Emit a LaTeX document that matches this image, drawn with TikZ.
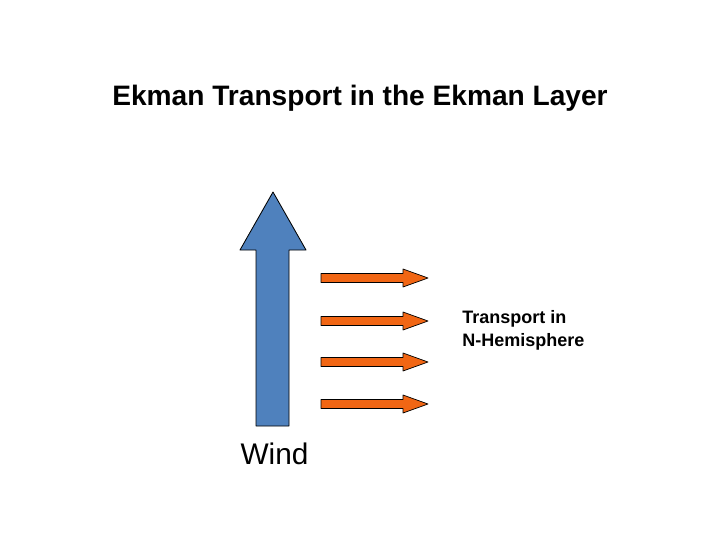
\documentclass[tikz,border=0pt]{standalone}
\usepackage{fontspec}
\setmainfont{Liberation Sans}
\usepackage{tikz}
\definecolor{wwttbb}{rgb}{0.31,0.506,0.741}
\definecolor{ffttqq}{rgb}{0.945,0.4,0.08}
\tikzset{every node/.style={inner sep=0pt}}

\begin{document}
\begin{tikzpicture}[line cap=round,line join=round,x=0.025cm,y=-0.025cm]
            \useasboundingbox[fill=white] (0,0) rectangle (720,540);
            \node (title) [font=\fontsize{20}{24}\selectfont\bfseries] at (360,98) {Ekman Transport in the Ekman Layer};
            % wind arrow
            \draw [line width=0.6pt,fill=wwttbb] (256,426) -- (256,250) -- (240,250) -- (273,192) -- (306,250) -- (289,250) -- (289,426) -- cycle;
            % transport arrows
            \foreach \y in {278,321,362,404}
            {
            \draw [line width=0.5pt,fill=ffttqq] (321,\y-4.5) -- (403,\y-4.5) -- (403,\y-9) -- (428,\y) -- (403,\y+9) -- (403,\y+4.5) -- (321,\y+4.5) -- cycle;
            }
            \node (wind) [font=\fontsize{21.2}{25}\selectfont] at (274.5,454) {Wind};
            \node (transport) [anchor=west,align=left,font=\fontsize{12.8}{16.3}\selectfont\bfseries] at (462,330.5) {Transport in\\N-Hemisphere};
\end{tikzpicture}
\end{document}
